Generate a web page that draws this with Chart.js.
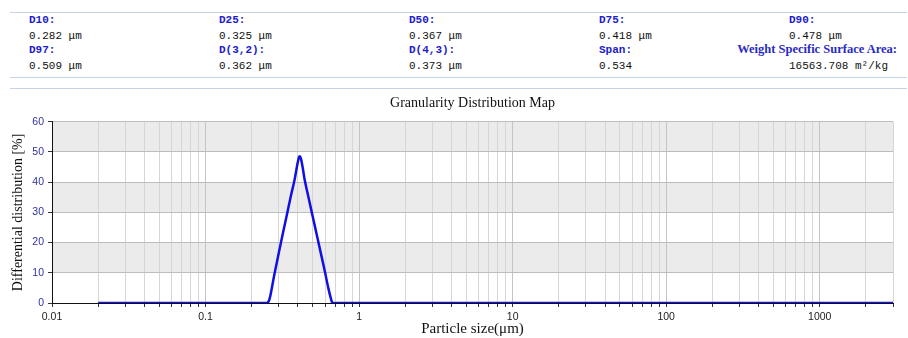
<!DOCTYPE html>
<html>
<head>
<meta charset="utf-8">
<script src="https://cdn.jsdelivr.net/npm/chart.js@4/dist/chart.umd.min.js"></script>
<style>
  html, body { margin: 0; padding: 0; background: #fff; }
  body { width: 908px; height: 338px; position: relative; overflow: hidden; }
  .rule { position: absolute; left: 10px; width: 897px; height: 0; border-top: 1px solid #c4d4e6; }
  .lbl, .val { position: absolute; font-size: 11px; line-height: 13px; white-space: nowrap; }
  .lbl { font-family: "Liberation Mono", "DejaVu Sans Mono", monospace; font-weight: bold; color: #1c1ccc; }
  .val { font-family: "Liberation Mono", "DejaVu Sans Mono", monospace; color: #111; }
  .lbl.serif { font-family: "Liberation Serif", "DejaVu Serif", serif; font-size: 12.5px; color: #2a2ac4; }
  #chartBox { position: absolute; left: 0; top: 80px; width: 908px; height: 258px; }
</style>
</head>
<body>
<div class="rule" style="top:12px"></div>
<div class="rule" style="top:77px"></div>
<div class="rule" style="top:88px"></div>
<div id="header"></div>
<div id="chartBox"><canvas id="chart"></canvas></div>
<script>
// Summary statistics shown above the plot
const statLabels = ['D10:', 'D25:', 'D50:', 'D75:', 'D90:', 'D97:', 'D(3,2):', 'D(4,3):', 'Span:', 'Weight Specific Surface Area:'];
const statValues = ['0.282 μm', '0.325 μm', '0.367 μm', '0.418 μm', '0.478 μm', '0.509 μm', '0.362 μm', '0.373 μm', '0.534', '16563.708 m²/kg'];

// Differential size distribution (particle size in μm, percent)
const particleSizes = [0.02, 0.05, 0.1, 0.2, 0.25, 0.26, 0.28, 0.30, 0.32, 0.34, 0.36, 0.38, 0.39, 0.40, 0.405, 0.41, 0.415, 0.42, 0.43, 0.44, 0.47, 0.50, 0.53, 0.56, 0.60, 0.63, 0.66, 0.67, 0.7, 1, 10, 100, 1000, 3000];
const differential = [0, 0, 0, 0, 0, 1.0, 9.2, 16.6, 23.4, 29.6, 35.6, 40.8, 44.0, 46.9, 48.1, 48.6, 48.3, 47.4, 44.6, 41.4, 34.6, 28.4, 22.6, 17.1, 10.2, 5.0, 0.9, 0, 0, 0, 0, 0, 0, 0];

// Axis settings
const xMin = 0.01, xMax = 3000;
const yMin = 0, yMax = 60, yStep = 10;
const decadeLabels = ['0.01', '0.1', '1', '10', '100', '1000'];

// Header layout
const colX = [29, 219, 409, 599, 789];
const rowY = [14, 30, 44, 60];
const header = document.getElementById('header');
statLabels.forEach((text, i) => {
  const row = Math.floor(i / 5), col = i % 5;
  const l = document.createElement('div');
  l.className = 'lbl';
  l.textContent = text;
  l.style.top = rowY[row * 2] + 'px';
  if (i === 9) {
    l.className = 'lbl serif';
    l.style.right = '11px';
    l.style.top = (rowY[row * 2] - 1) + 'px';
  } else {
    l.style.left = colX[col] + 'px';
  }
  header.appendChild(l);
  const v = document.createElement('div');
  v.className = 'val';
  v.textContent = statValues[i];
  v.style.top = rowY[row * 2 + 1] + 'px';
  v.style.left = colX[col] + 'px';
  header.appendChild(v);
});

// Alternating grey bands behind the value grid
const bandPlugin = {
  id: 'bands',
  beforeDraw(chart) {
    const { ctx, chartArea, scales } = chart;
    const y = scales.y;
    ctx.save();
    ctx.fillStyle = '#ebebeb';
    for (let v = yMin; v < yMax; v += yStep) {
      if (((v - yMin) / yStep) % 2 === 1) {
        const top = y.getPixelForValue(v + yStep);
        const bot = y.getPixelForValue(v);
        ctx.fillRect(chartArea.left, top, chartArea.right - chartArea.left, bot - top);
      }
    }
    ctx.restore();
  }
};

const isDecade = v => Math.abs(Math.log10(v) - Math.round(Math.log10(v))) < 1e-9;

new Chart(document.getElementById('chart'), {
  type: 'line',
  data: {
    datasets: [{
      data: particleSizes.map((s, i) => ({ x: s, y: differential[i] })),
      borderColor: '#1010e6',
      borderWidth: 2.5,
      pointRadius: 0,
      fill: false,
      cubicInterpolationMode: 'monotone'
    }]
  },
  options: {
    responsive: true,
    maintainAspectRatio: false,
    animation: false,
    devicePixelRatio: 1,
    layout: { padding: { left: 0, right: 15, top: 0, bottom: 0 } },
    plugins: {
      legend: { display: false },
      tooltip: { enabled: false },
      title: {
        display: true,
        text: 'Granularity Distribution Map',
        fullSize: false,
        color: '#111',
        font: { family: '"Liberation Serif", "DejaVu Serif", serif', size: 14, weight: 'normal', lineHeight: 1.2 },
        padding: { top: 15, bottom: 10 }
      }
    },
    scales: {
      x: {
        type: 'logarithmic',
        min: xMin,
        max: xMax,
        afterBuildTicks(scale) {
          const t = [];
          for (let e = -2; e <= 3; e++) {
            for (let m = 1; m <= 9; m++) {
              const v = Number((m * Math.pow(10, e)).toPrecision(6));
              if (v >= xMin && v <= xMax) t.push({ value: v });
            }
          }
          scale.ticks = t;
        },
        afterFit(scale) { scale.height = 35; },
        ticks: {
          autoSkip: false,
          maxRotation: 0,
          padding: 4,
          color: '#222',
          font: { family: '"Liberation Sans", Arial, sans-serif', size: 10.5 },
          callback(value) {
            if (!isDecade(value)) return '';
            const idx = Math.round(Math.log10(value)) + 2;
            return decadeLabels[idx];
          }
        },
        grid: {
          color: ctx => (ctx.tick && isDecade(ctx.tick.value)) ? '#c4c4c4' : '#d6d6d6',
          lineWidth: 1,
          tickLength: 4,
          tickColor: '#333'
        },
        border: { display: true, color: '#111', width: 1 },
        title: {
          display: true,
          text: 'Particle size(μm)',
          color: '#111',
          font: { family: '"Liberation Serif", "DejaVu Serif", serif', size: 15, lineHeight: 1.2 },
          padding: { top: 0, bottom: 0 }
        }
      },
      y: {
        min: yMin,
        max: yMax,
        afterFit(scale) { scale.width = 52; },
        ticks: {
          stepSize: yStep,
          padding: 4,
          color: '#3030a0',
          font: { family: '"Liberation Sans", Arial, sans-serif', size: 10.5 }
        },
        grid: {
          color: '#bdbdbd',
          lineWidth: 1,
          tickLength: 4,
          tickColor: '#333'
        },
        border: { display: true, color: '#111', width: 1 },
        title: {
          display: true,
          text: 'Differential distribution [%]',
          color: '#111',
          font: { family: '"Liberation Serif", "DejaVu Serif", serif', size: 14, lineHeight: 1.2 },
          padding: { top: 10, bottom: 0 }
        }
      }
    }
  },
  plugins: [bandPlugin]
});
</script>
</body>
</html>
